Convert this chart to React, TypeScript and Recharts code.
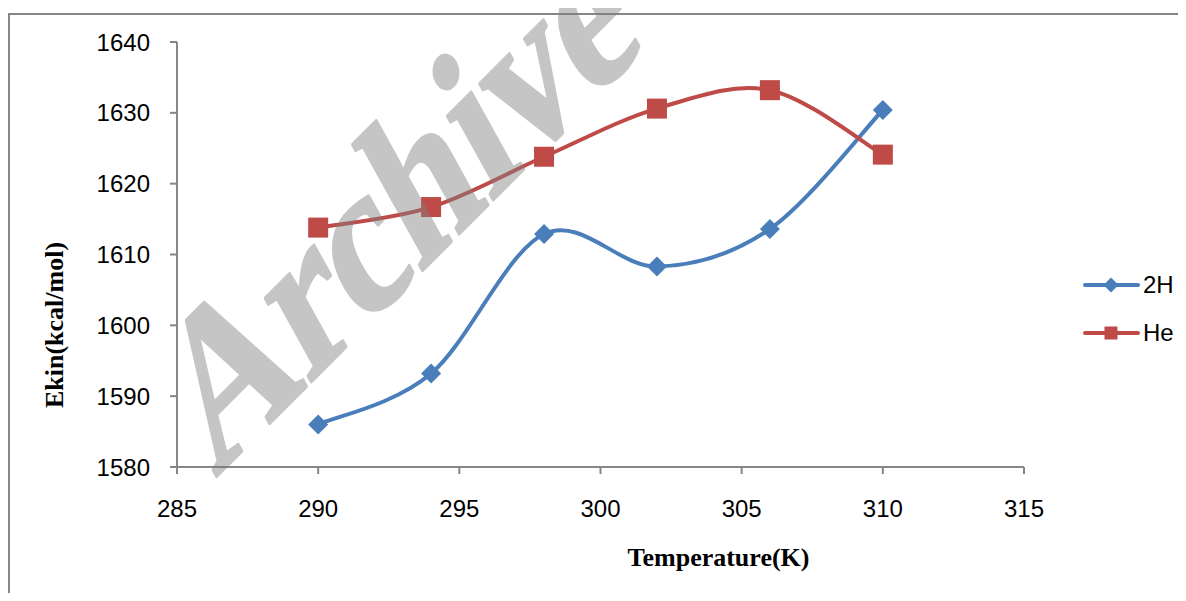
import React from 'react';
import { LineChart, Line, XAxis, YAxis, Legend, Label } from 'recharts';

// values
const temperatures = [290, 294, 298, 302, 306, 310];
const ekin2H = [1586.0, 1593.2, 1612.9, 1608.3, 1613.6, 1630.4];
const ekinHe = [1613.8, 1616.7, 1623.8, 1630.6, 1633.2, 1624.1];
const xTicks = [285, 290, 295, 300, 305, 310, 315];
const yTicks = [1580, 1590, 1600, 1610, 1620, 1630, 1640];

const data = temperatures.map((t, i) => ({ t, h2: ekin2H[i], he: ekinHe[i] }));

const BLUE = '#4A7EBB';
const RED = '#BE4B48';
const AXIS = '#868686';
const SANS = '"Liberation Sans", Arial, sans-serif';
const SERIF = '"Liberation Serif", "Times New Roman", serif';

// Excel-style smoothed line (Catmull-Rom turned into bezier segments)
const excelCurve = (context: any) => {
  let pts: [number, number][] = [];
  return {
    areaStart() {},
    areaEnd() {},
    lineStart() {
      pts = [];
    },
    lineEnd() {
      const n = pts.length;
      if (!n) return;
      context.moveTo(pts[0][0], pts[0][1]);
      for (let i = 0; i < n - 1; i++) {
        const p0 = pts[Math.max(i - 1, 0)];
        const p1 = pts[i];
        const p2 = pts[i + 1];
        const p3 = pts[Math.min(i + 2, n - 1)];
        context.bezierCurveTo(
          p1[0] + (p2[0] - p0[0]) / 6,
          p1[1] + (p2[1] - p0[1]) / 6,
          p2[0] - (p3[0] - p1[0]) / 6,
          p2[1] - (p3[1] - p1[1]) / 6,
          p2[0],
          p2[1]
        );
      }
    },
    point(x: number, y: number) {
      pts.push([+x, +y]);
    },
  };
};

const Diamond = ({ cx, cy, r = 10, fill = BLUE }: any) => {
  if (cx == null || cy == null) return null;
  return <polygon points={`${cx},${cy - r} ${cx + r},${cy} ${cx},${cy + r} ${cx - r},${cy}`} fill={fill} />;
};

const Square = ({ cx, cy, r = 10, fill = RED }: any) => {
  if (cx == null || cy == null) return null;
  return <rect x={cx - r} y={cy - r} width={r * 2} height={r * 2} fill={fill} />;
};

const legendItems = [
  { name: '2H', color: BLUE, Mark: Diamond, r: 7.5 },
  { name: 'He', color: RED, Mark: Square, r: 6.5 },
];

const renderLegend = () => (
  <div style={{ fontFamily: SANS, fontSize: 24, color: '#000' }}>
    {legendItems.map(({ name, color, Mark, r }) => (
      <div key={name} style={{ display: 'flex', alignItems: 'center', height: 48 }}>
        <svg width={58} height={20}>
          <line x1={2} y1={10} x2={55} y2={10} stroke={color} strokeWidth={4} strokeLinecap="round" />
          <Mark cx={28} cy={10} r={r} fill={color} />
        </svg>
        <span style={{ marginLeft: 2 }}>{name}</span>
      </div>
    ))}
  </div>
);

const tickStyle = { fontFamily: SANS, fontSize: 24, fill: '#000' };

export default function App() {
  return (
    <div style={{ margin: -8, position: 'relative', width: 1186, height: 601, overflow: 'hidden', background: '#fff' }}>
      <div
        style={{
          position: 'absolute',
          left: 8,
          top: 13,
          width: 1178,
          height: 588,
          borderLeft: `2px solid ${AXIS}`,
          borderTop: `2px solid ${AXIS}`,
        }}
      >
        <LineChart width={1176} height={586} data={data} margin={{ top: 27, right: 162, left: 0, bottom: 0 }}>
          <XAxis
            dataKey="t"
            type="number"
            domain={[285, 315]}
            ticks={xTicks}
            interval={0}
            stroke={AXIS}
            strokeWidth={2}
            tickSize={7}
            tickMargin={26}
            tick={tickStyle}
            height={134}
          >
            <Label
              content={({ viewBox }: any) => (
                <text
                  x={viewBox.x + viewBox.width / 2 + 118}
                  y={viewBox.y + 99}
                  textAnchor="middle"
                  fontFamily={SERIF}
                  fontWeight="bold"
                  fontSize={26}
                  fill="#000"
                >
                  Temperature(K)
                </text>
              )}
            />
          </XAxis>
          <YAxis
            type="number"
            domain={[1580, 1640]}
            ticks={yTicks}
            interval={0}
            stroke={AXIS}
            strokeWidth={2}
            tickSize={7}
            tickMargin={20}
            tick={tickStyle}
            width={167}
          >
            <Label
              content={() => (
                <text
                  x={53}
                  y={310}
                  transform="rotate(-90 53 310)"
                  textAnchor="middle"
                  fontFamily={SERIF}
                  fontWeight="bold"
                  fontSize={26}
                  fill="#000"
                >
                  Ekin(kcal/mol)
                </text>
              )}
            />
          </YAxis>
          <Legend
            content={renderLegend}
            layout="vertical"
            align="center"
            verticalAlign="middle"
            wrapperStyle={{ left: 1073, top: 246, width: 110, height: 96 }}
          />
          <Line
            dataKey="h2"
            name="2H"
            type={excelCurve as any}
            stroke={BLUE}
            strokeWidth={4}
            dot={(p: any) => <Diamond key={`d-${p.index}`} cx={p.cx} cy={p.cy} />}
            activeDot={false}
            isAnimationActive={false}
          />
          <Line
            dataKey="he"
            name="He"
            type={excelCurve as any}
            stroke={RED}
            strokeWidth={4}
            dot={(p: any) => <Square key={`s-${p.index}`} cx={p.cx} cy={p.cy} />}
            activeDot={false}
            isAnimationActive={false}
          />
        </LineChart>
      </div>
      {/* watermark sits over the plot, slightly see-through */}
      <svg width={1186} height={601} style={{ position: 'absolute', left: 0, top: 0, pointerEvents: 'none' }}>
        <g opacity={0.45}>
          <text
            x={-305}
            y={0}
            transform="translate(431 262) rotate(-45) skewX(-16)"
            textLength={610}
            lengthAdjust="spacingAndGlyphs"
            fontFamily={SERIF}
            fontWeight="bold"
            fontSize={200}
            fill="#7f7f7f"
            stroke="#7f7f7f"
            strokeWidth={3}
            strokeLinejoin="round"
          >
            Archive
          </text>
        </g>
      </svg>
    </div>
  );
}
